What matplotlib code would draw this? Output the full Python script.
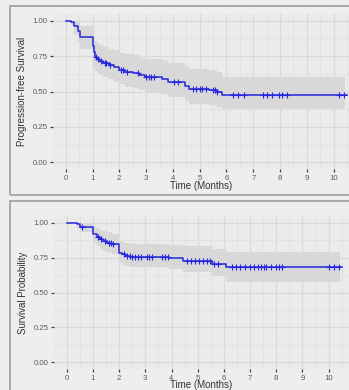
import numpy as np
import matplotlib.pyplot as plt
from matplotlib.patches import Rectangle

# ---- Progression-free survival (Kaplan-Meier step estimates) ----
pfs_time = [0, 0.2, 0.32, 0.47, 0.53, 1.0, 1.05, 1.1, 1.17, 1.25, 1.4, 1.6, 1.8,
            2.0, 2.2, 2.5, 2.75, 2.95, 3.6, 3.8, 4.45, 4.6, 5.35, 5.65, 5.82]
pfs_surv = [1.0, 0.99, 0.96, 0.93, 0.885, 0.82, 0.78, 0.745, 0.73, 0.715, 0.70, 0.685, 0.67,
            0.655, 0.64, 0.63, 0.615, 0.60, 0.59, 0.565, 0.54, 0.52, 0.51, 0.495, 0.475]
pfs_upper = [1.0, 1.0, 1.0, 1.0, 0.96, 0.91, 0.88, 0.855, 0.84, 0.83, 0.815, 0.80, 0.79,
             0.775, 0.765, 0.755, 0.74, 0.73, 0.72, 0.70, 0.68, 0.66, 0.65, 0.635, 0.60]
pfs_lower = [1.0, 0.97, 0.90, 0.85, 0.80, 0.72, 0.68, 0.645, 0.63, 0.615, 0.60, 0.585, 0.57,
             0.55, 0.535, 0.525, 0.51, 0.495, 0.485, 0.46, 0.435, 0.415, 0.405, 0.39, 0.375]
pfs_end = 10.5
pfs_band_end = 10.42
pfs_censor = [1.12, 1.22, 1.32, 1.45, 1.52, 1.65, 2.05, 2.15, 2.3, 2.7, 3.0, 3.1, 3.2, 3.3,
              4.05, 4.2, 4.75, 4.85, 5.0, 5.1, 5.25, 5.5, 5.58, 5.65,
              6.25, 6.44, 6.65, 7.37, 7.5, 7.71, 7.97, 8.08, 8.25, 10.2, 10.4]

# ---- Overall survival ----
os_time = [0, 0.41, 0.51, 1.02, 1.14, 1.27, 1.4, 1.53, 1.72, 2.0, 2.1, 2.23, 2.42,
           3.9, 4.45, 5.53, 6.07]
os_surv = [1.0, 0.988, 0.971, 0.919, 0.90, 0.883, 0.869, 0.857, 0.845, 0.785, 0.775, 0.764,
           0.757, 0.745, 0.728, 0.704, 0.68]
os_upper = [1.0, 1.0, 1.0, 0.975, 0.96, 0.95, 0.94, 0.93, 0.92, 0.87, 0.865, 0.855,
            0.85, 0.84, 0.83, 0.81, 0.79]
os_lower = [1.0, 0.965, 0.93, 0.855, 0.835, 0.815, 0.80, 0.79, 0.775, 0.71, 0.70, 0.69,
            0.68, 0.665, 0.645, 0.615, 0.575]
os_end = 10.5
os_band_end = 10.42
os_censor = [0.6, 1.2, 1.3, 1.45, 1.6, 1.68, 1.78, 2.18, 2.3, 2.4, 2.48, 2.6, 2.73, 2.85,
             3.05, 3.15, 3.24, 3.63, 3.75, 3.85, 4.6, 4.75, 4.9, 5.05, 5.2, 5.35, 5.47,
             5.63, 5.79, 6.3, 6.45, 6.6, 6.8, 7.0, 7.15, 7.3, 7.42, 7.52, 7.62, 7.8,
             8.0, 8.1, 8.2, 10.0, 10.2, 10.4]

x_ticks = list(range(0, 11))
y_ticks = [0.0, 0.25, 0.5, 0.75, 1.0]
y_ticklabels = ["0.00", "0.25", "0.50", "0.75", "1.00"]

LINE = "#2626dc"
BAND = "#d8d8d8"
PANEL = "#ebebeb"
FIG_BG = "#eeeeee"
TXT = "#5a5a5a"

plt.rcParams["font.family"] = ["Liberation Sans", "DejaVu Sans"]

W, H = 349, 390
fig = plt.figure(figsize=(W / 100, H / 100), dpi=100, facecolor=FIG_BG)


def px_box(left, top, right, bottom):
    return [left / W, 1 - bottom / H, (right - left) / W, (bottom - top) / H]


# outer frames around each plot
for (l, t, r, b) in [(10, 6, 372, 195), (10, 201, 372, 400)]:
    fig.patches.append(Rectangle((l / W, 1 - b / H), (r - l) / W, (b - t) / H,
                                 transform=fig.transFigure, facecolor="none",
                                 edgecolor="#a3a3a3", linewidth=1.3, zorder=0))


def km_panel(box, xlim, time, surv, upper, lower, end, band_end, censor, ylabel):
    ax = fig.add_axes(px_box(*box))
    ax.set_facecolor(PANEL)
    for s in ax.spines.values():
        s.set_visible(False)
    ax.set_xlim(*xlim)
    ax.set_ylim(-0.05, 1.05)

    ax.set_xticks(x_ticks)
    ax.set_xticks(np.arange(0.5, 11, 1.0), minor=True)
    ax.set_yticks(y_ticks)
    ax.set_yticklabels(y_ticklabels)
    ax.set_yticks(np.arange(0.125, 1.0, 0.25), minor=True)
    ax.grid(which="major", color="#d9d9d9", linewidth=0.9)
    ax.grid(which="minor", color="#e1e1e1", linewidth=0.6)
    ax.set_axisbelow(True)
    ax.tick_params(which="major", length=2.5, width=0.9, color="#444444",
                   labelsize=5.6, labelcolor=TXT, pad=1.5)
    ax.tick_params(which="minor", length=0)

    t = np.array(time + [end])
    s = np.array(surv + [surv[-1]])
    bt = np.array(time + [band_end])
    up = np.array(upper + [upper[-1]])
    lo = np.array(lower + [lower[-1]])
    ax.fill_between(bt, lo, up, step="post", color=BAND, linewidth=0, zorder=1)
    ax.step(t, s, where="post", color=LINE, linewidth=1.1, zorder=3)

    c = np.array(censor)
    idx = np.searchsorted(np.array(time), c, side="right") - 1
    cs = np.array(surv)[idx]
    ax.plot(c, cs, linestyle="none", marker="+", markersize=4.5, mew=0.8,
            color=LINE, zorder=4)

    ax.set_xlabel("Time (Months)", fontsize=7.0, color="#333333", labelpad=-1.0)
    ax.set_ylabel(ylabel, fontsize=7.0, color="#333333", labelpad=4)
    return ax


ax1 = km_panel((53, 13.6, 349, 169.4), (-0.474, 10.571), pfs_time, pfs_surv, pfs_upper,
               pfs_lower, pfs_end, pfs_band_end, pfs_censor, "Progression-free Survival")
ax2 = km_panel((54, 215.7, 349, 369.3), (-0.485, 10.775), os_time, os_surv, os_upper,
               os_lower, os_end, os_band_end, os_censor, "Survival Probability")

fig.savefig("out.png", dpi=100, facecolor=FIG_BG)
